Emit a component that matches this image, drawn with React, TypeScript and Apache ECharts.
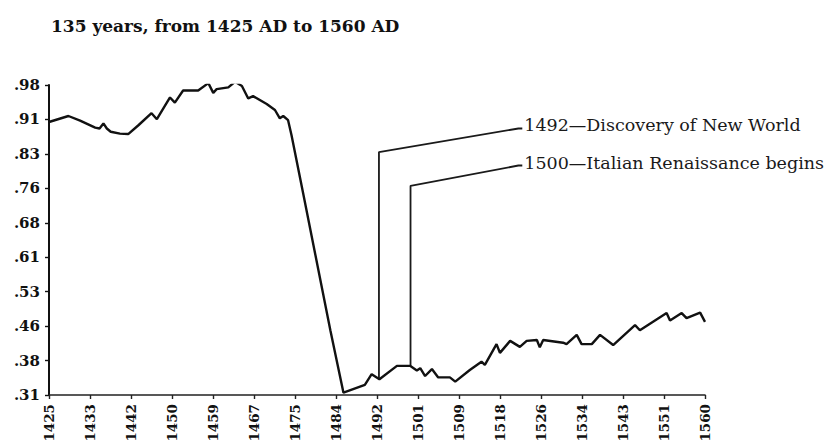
import React, { useEffect, useRef } from "react";
import * as echarts from "echarts";

// ---------- data ----------
const TITLE = "135 years, from 1425 AD to 1560 AD";
const START_YEAR = 1425;
const END_YEAR = 1560;
const X_TICK_LABELS = ["1425", "1433", "1442", "1450", "1459", "1467", "1475", "1484", "1492", "1501", "1509", "1518", "1526", "1534", "1543", "1551", "1560"];
const Y_TICK_LABELS = [".31", ".38", ".46", ".53", ".61", ".68", ".76", ".83", ".91", ".98"];
const Y_MIN = 0.31;
const Y_MAX = 0.98;

const years = [
  1425, 1429, 1431.4, 1434.5, 1435.4, 1436.2, 1436.9, 1437.7, 1439.6, 1441.3,
  1443.4, 1446.1, 1447.2, 1449.9, 1450.9, 1452.6, 1455.7, 1457.8, 1458.8, 1459.5,
  1461.9, 1463.3, 1464.7, 1466, 1467, 1469.8, 1471.5, 1472.5, 1473.2, 1474.2,
  1474.9, 1477.3, 1482.9, 1485.6, 1490.0, 1491.4, 1493.0, 1496.6, 1499.3, 1500.7,
  1501.4, 1502.4, 1503.8, 1505.1, 1507.5, 1508.6, 1511.6, 1514.0, 1514.7, 1517.1,
  1517.8, 1519.9, 1521.9, 1523.3, 1525.4, 1526.0, 1526.7, 1530.8, 1531.5, 1533.6,
  1534.6, 1536.7, 1538.4, 1541.1, 1545.6, 1546.6, 1552.1, 1552.8, 1555.2, 1556.2,
  1559.0, 1560,
];
const values = [
  0.900, 0.913, 0.903, 0.888, 0.886, 0.897, 0.886, 0.879, 0.875, 0.874,
  0.893, 0.919, 0.906, 0.953, 0.942, 0.968, 0.968, 0.984, 0.963, 0.971,
  0.975, 0.987, 0.978, 0.951, 0.956, 0.939, 0.926, 0.908, 0.913, 0.904,
  0.872, 0.746, 0.450, 0.315, 0.332, 0.355, 0.344, 0.373, 0.373, 0.363,
  0.368, 0.351, 0.366, 0.348, 0.348, 0.339, 0.364, 0.382, 0.375, 0.420,
  0.401, 0.427, 0.414, 0.427, 0.429, 0.413, 0.429, 0.423, 0.420, 0.440,
  0.420, 0.420, 0.440, 0.418, 0.461, 0.450, 0.487, 0.471, 0.487, 0.476,
  0.488, 0.468,
];

// annotation leader lines: [year, value]
const note1492Text = "1492\u2014Discovery of New World";
const note1492Years = [1492.9, 1492.9, 1521.6, 1522.4];
const note1492Values = [0.344, 0.835, 0.886, 0.886];
const note1500Text = "1500\u2014Italian Renaissance begins";
const note1500Years = [1499.4, 1499.4, 1521.6, 1522.4];
const note1500Values = [0.373, 0.762, 0.806, 0.806];

// ---------- helpers ----------
const X_STEP = (END_YEAR - START_YEAR) / (X_TICK_LABELS.length - 1);
const Y_STEP = (Y_MAX - Y_MIN) / (Y_TICK_LABELS.length - 1);
const toX = (yr: number) => yr - START_YEAR;
const toY = (v: number) => (v - Y_MIN) / Y_STEP;
const pts = (xs: number[], ys: number[]) => xs.map((x, i) => [toX(x), toY(ys[i])]);

const SERIF = "'DejaVu Serif', 'Liberation Serif', serif";

export default function App() {
  const ref = useRef<HTMLDivElement>(null);
  useEffect(() => {
    if (!ref.current) return;
    const chart = echarts.init(ref.current, null, { renderer: "svg" });
    const noteSeries = (xs: number[], ys: number[], text: string) => ({
      type: "line",
      data: pts(xs, ys),
      showSymbol: false,
      symbol: "none",
      lineStyle: { color: "#1a1a1a", width: 1.8 },
      endLabel: {
        show: true,
        distance: 2,
        offset: [0, -3],
        formatter: () => text,
        color: "#1a1a1a",
        fontFamily: SERIF,
        fontSize: 17.5,
      },
      silent: true,
      z: 3,
    });
    chart.setOption({
      animation: false,
      backgroundColor: "#ffffff",
      title: {
        text: TITLE,
        left: 46,
        top: 12,
        textStyle: { fontFamily: SERIF, fontWeight: "bold", fontSize: 17, color: "#111" },
      },
      grid: { left: 49, right: 126, top: 85, bottom: 52, containLabel: false, outerBoundsMode: "none" },
      xAxis: {
        type: "value",
        min: 0,
        max: END_YEAR - START_YEAR,
        interval: X_STEP,
        axisLine: { lineStyle: { color: "#222", width: 1.6 } },
        axisTick: { show: true, length: 4, lineStyle: { color: "#222", width: 1.4 } },
        splitLine: { show: false },
        axisLabel: {
          rotate: 90,
          margin: 9,
          color: "#111",
          fontFamily: SERIF,
          fontWeight: "bold",
          fontSize: 13.5,
          formatter: (v: number) => X_TICK_LABELS[Math.round(v / X_STEP)] ?? "",
        },
      },
      yAxis: {
        type: "value",
        min: 0,
        max: Y_TICK_LABELS.length - 1,
        interval: 1,
        axisLine: { show: true, lineStyle: { color: "#111", width: 2 } },
        axisTick: { show: true, length: 4, lineStyle: { color: "#111", width: 1.4 } },
        splitLine: { show: false },
        axisLabel: {
          margin: 9,
          color: "#111",
          fontFamily: SERIF,
          fontWeight: "bold",
          fontSize: 15,
          formatter: (v: number) => Y_TICK_LABELS[Math.round(v)] ?? "",
        },
      },
      series: [
        {
          type: "line",
          data: pts(years, values),
          showSymbol: false,
          symbol: "none",
          lineStyle: { color: "#111", width: 2.4 },
          z: 4,
        },
        noteSeries(note1492Years, note1492Values, note1492Text),
        noteSeries(note1500Years, note1500Values, note1500Text),
      ],
    });
    return () => chart.dispose();
  }, []);
  return (
    <div
      ref={ref}
      style={{ position: "fixed", left: 0, top: 0, width: 831, height: 447, background: "#fff" }}
    />
  );
}
